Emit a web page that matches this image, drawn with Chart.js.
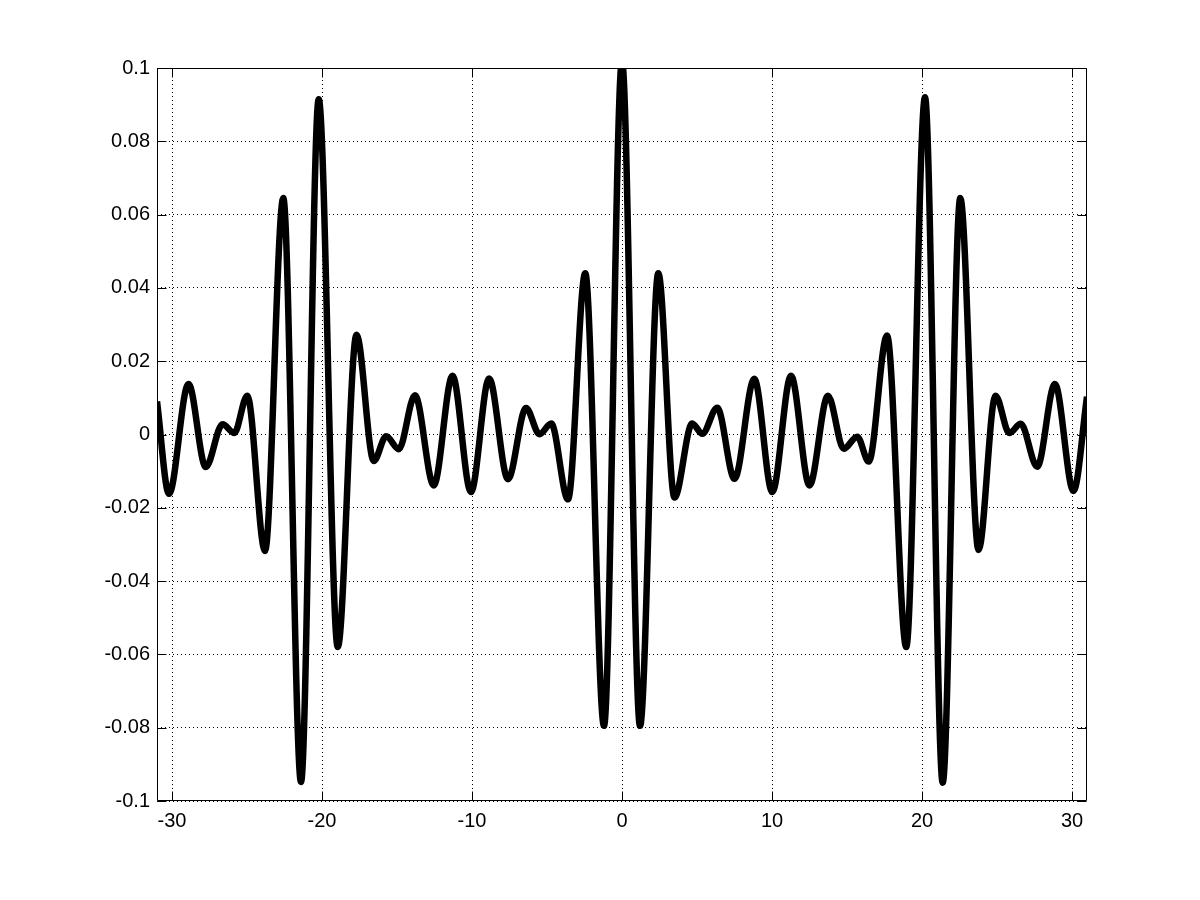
<!DOCTYPE html>
<html>
<head>
<meta charset="utf-8">
<script src="https://cdn.jsdelivr.net/npm/chart.js@4/dist/chart.umd.min.js"></script>
<style>
  html, body { margin: 0; padding: 0; background: #fff; }
  canvas { display: block; }
</style>
</head>
<body>
<canvas id="plot" width="1200" height="900"></canvas>
<script>
// curve: extrema of the signal (x, y)
const xs = [
  -31, -30.2, -28.9, -27.75, -26.63, -25.85, -24.98, -23.8, -22.58, -21.4,
  -20.22, -18.95, -17.7, -16.55, -15.72, -14.88, -13.8, -12.55, -11.3, -10.07,
  -8.86, -7.6, -6.4, -5.5, -4.72, -3.6, -2.45, -1.2, 0,
  1.2, 2.42, 3.5, 4.68, 5.35, 6.35, 7.5, 8.82, 10.02, 11.27,
  12.5, 13.73, 14.78, 15.68, 16.45, 17.67, 18.95, 20.2, 21.38, 22.55,
  23.77, 24.9, 25.82, 26.58, 27.68, 28.86, 30.1, 31
];
const ys = [
  0.009, -0.0162, 0.0138, -0.0089, 0.0028, 0.0004, 0.0106, -0.0318, 0.0645, -0.0948,
  0.0915, -0.058, 0.0272, -0.0072, -0.0005, -0.004, 0.0107, -0.0139, 0.016, -0.0157,
  0.0153, -0.0122, 0.0072, 0.0001, 0.003, -0.0177, 0.044, -0.0795, 0.102,
  -0.0795, 0.044, -0.0172, 0.003, 0.0002, 0.0073, -0.0121, 0.0152, -0.0157, 0.016,
  -0.0139, 0.0106, -0.0039, -0.0006, -0.0074, 0.027, -0.058, 0.092, -0.095, 0.0645,
  -0.0315, 0.0106, 0.0004, 0.0029, -0.0088, 0.0138, -0.0154, 0.0103
];

const xTicks = [-30, -20, -10, 0, 10, 20, 30];
const xTickLabels = ['-30', '-20', '-10', '0', '10', '20', '30'];
const yTicks = [-0.1, -0.08, -0.06, -0.04, -0.02, 0, 0.02, 0.04, 0.06, 0.08, 0.1];
const yTickLabels = ['-0.1', '-0.08', '-0.06', '-0.04', '-0.02', '0', '0.02', '0.04', '0.06', '0.08', '0.1'];

const points = xs.map((x, i) => ({ x: x, y: ys[i] }));

// matlab style box with inward ticks on all four sides
const boxPlugin = {
  id: 'box',
  afterDatasetsDraw(chart) {
    const { ctx, chartArea: a, scales } = chart;
    const L = Math.round(a.left) + 0.5, R = Math.round(a.right) - 0.5;
    const T = Math.round(a.top) + 0.5, B = Math.round(a.bottom) - 0.5;
    const len = 9;
    ctx.save();
    ctx.strokeStyle = '#000';
    ctx.lineWidth = 1;
    ctx.beginPath();
    ctx.rect(L, T, R - L, B - T);
    xTicks.forEach(v => {
      const px = Math.round(scales.x.getPixelForValue(v)) + 0.5;
      ctx.moveTo(px, B); ctx.lineTo(px, B - len);
      ctx.moveTo(px, T); ctx.lineTo(px, T + len);
    });
    yTicks.forEach(v => {
      const py = Math.round(scales.y.getPixelForValue(v)) + 0.5;
      ctx.moveTo(L, py); ctx.lineTo(L + len, py);
      ctx.moveTo(R, py); ctx.lineTo(R - len, py);
    });
    ctx.stroke();
    ctx.restore();
  }
};

const font = { family: "'Liberation Sans', Arial, sans-serif", size: 20 };

new Chart(document.getElementById('plot').getContext('2d'), {
  type: 'line',
  data: {
    datasets: [{
      data: points,
      borderColor: '#000',
      borderWidth: 6.5,
      pointRadius: 0,
      fill: false,
      cubicInterpolationMode: 'monotone',
      clip: 0
    }]
  },
  options: {
    responsive: false,
    animation: false,
    layout: { padding: { top: 68, right: 113, left: 0, bottom: 0 } },
    plugins: { legend: { display: false }, tooltip: { enabled: false } },
    scales: {
      x: {
        type: 'linear',
        min: -31,
        max: 31,
        afterBuildTicks: s => { s.ticks = xTicks.map(v => ({ value: v })); },
        afterFit: s => { s.height = 99; },
        ticks: {
          color: '#000',
          font: font,
          padding: 8,
          maxRotation: 0,
          autoSkip: false,
          callback: (v, i) => xTickLabels[i]
        },
        grid: { color: '#000', lineWidth: 1, drawTicks: false },
        border: { display: false, dash: [1, 3] }
      },
      y: {
        min: -0.1,
        max: 0.1,
        afterBuildTicks: s => { s.ticks = yTicks.map(v => ({ value: v })); },
        afterFit: s => { s.width = 157; },
        ticks: {
          color: '#000',
          font: font,
          padding: 7,
          autoSkip: false,
          callback: (v, i) => yTickLabels[i]
        },
        grid: { color: '#000', lineWidth: 1, drawTicks: false },
        border: { display: false, dash: [1, 3] }
      }
    }
  },
  plugins: [boxPlugin]
});
</script>
</body>
</html>
